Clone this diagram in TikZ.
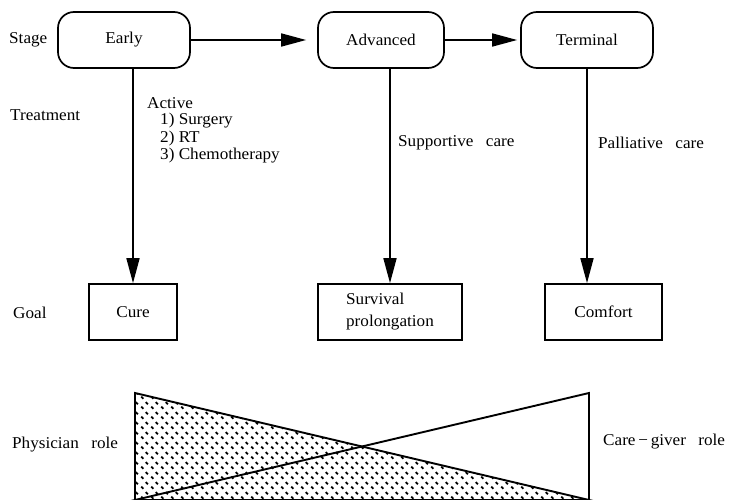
\documentclass[tikz,border=0pt]{standalone}
\usepackage{fontspec}
\setmainfont{Liberation Serif}[FakeStretch=1.04]
\usetikzlibrary{arrows.meta,patterns}

\pgfdeclarepatternformonly{dashplate}{\pgfqpoint{0pt}{0pt}}{\pgfqpoint{10pt}{10pt}}{\pgfqpoint{10pt}{10pt}}{%
  \pgfsetlinewidth{1.9pt}%
  \pgfpathmoveto{\pgfqpoint{1.3pt}{3.7pt}}\pgfpathlineto{\pgfqpoint{3.7pt}{1.3pt}}%
  \pgfpathmoveto{\pgfqpoint{6.3pt}{8.7pt}}\pgfpathlineto{\pgfqpoint{8.7pt}{6.3pt}}%
  \pgfusepath{stroke}}

\newcommand{\wsp}{\hspace{0.75em}}

\tikzset{
  stagebox/.style={draw, line width=1.7pt, rounded corners=16pt, minimum height=56pt, inner sep=0pt},
  goalbox/.style={draw, line width=1.7pt, minimum height=56pt, inner sep=0pt},
  arr/.style={line width=1.7pt, -{Triangle[length=25pt,width=13pt]}},
  lbl/.style={anchor=west, inner sep=0pt},
  edgeline/.style={line width=1.9pt, line join=miter}
}

\begin{document}
\begin{tikzpicture}[x=1pt, y=-1pt, font=\fontsize{16.5}{19}\selectfont]
\useasboundingbox (0,0) rectangle (732,500);

% stage boxes
\node[stagebox, minimum width=132pt] (early) at (124,40) {Early};
\node[stagebox, minimum width=126pt] (adv) at (381,40) {Advanced};
\node[stagebox, minimum width=132pt] (term) at (587,40) {Terminal};

% goal boxes
\node[goalbox, minimum width=88pt] (cure) at (133,312) {Cure};
\node[goalbox, minimum width=144pt, align=left] (surv) at (390,312) {Survival\\[3pt]prolongation};
\node[goalbox, minimum width=117pt] (comf) at (603.5,312) {Comfort};

% row labels
\node[lbl] (stage) at (9,40) {Stage};
\node[lbl] (treat) at (10,115) {Treatment};
\node[lbl] (goal) at (13,313) {Goal};

% treatment labels
\node[lbl] (active) at (147,103) {Active};
\node[lbl] (t1) at (160,121) {1) Surgery};
\node[lbl] (t2) at (160,139) {2) RT};
\node[lbl] (t3) at (160,156) {3) Chemotherapy};
\node[lbl] (supp) at (398,143) {Supportive\wsp care};
\node[lbl] (pall) at (598,143) {Palliative\wsp care};

% connectors
\draw[arr] (early.east) -- ([xshift=-11pt]adv.west);
\draw[arr] (adv.east) -- ([xshift=-3pt]term.west);
\draw[arr] (early.south -| cure.north) -- (cure.north);
\draw[arr] (adv.south -| surv.north) -- (surv.north);
\draw[arr] (term.south) -- (term.south |- comf.north);

% role triangles
\coordinate (tl) at (135,393);
\coordinate (bl) at (135,500);
\coordinate (tr) at (589,393);
\coordinate (br) at (589,500);
\fill[pattern=dashplate] (tl) -- (bl) -- (br) -- cycle;
\draw[edgeline] (tl) -- (bl) -- (br) -- cycle;
\draw[edgeline] (bl) -- (tr) -- (br) -- cycle;

\node[lbl] (phys) at (12,445) {Physician\wsp role};
\node[lbl] (care) at (603,442) {Care\,−\,giver\wsp role};
\end{tikzpicture}
\end{document}
